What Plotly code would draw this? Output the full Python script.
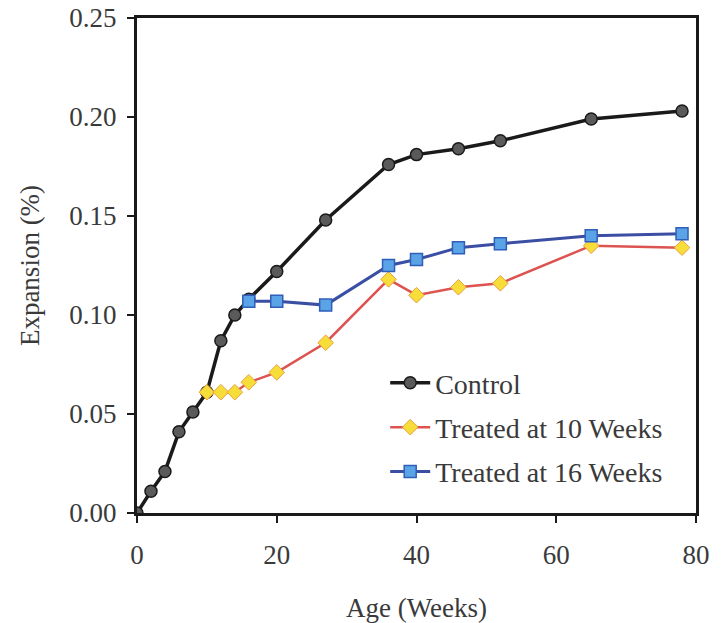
import plotly.graph_objects as go

weeks_control = [0, 2, 4, 6, 8, 10, 12, 14, 16, 20, 27, 36, 40, 46, 52, 65, 78]
exp_control = [0.000, 0.011, 0.021, 0.041, 0.051, 0.061, 0.087, 0.100, 0.108, 0.122, 0.148, 0.176, 0.181, 0.184, 0.188, 0.199, 0.203]

weeks_t10 = [10, 12, 14, 16, 20, 27, 36, 40, 46, 52, 65, 78]
exp_t10 = [0.061, 0.061, 0.061, 0.066, 0.071, 0.086, 0.118, 0.110, 0.114, 0.116, 0.135, 0.134]

weeks_t16 = [16, 20, 27, 36, 40, 46, 52, 65, 78]
exp_t16 = [0.107, 0.107, 0.105, 0.125, 0.128, 0.134, 0.136, 0.140, 0.141]

x_ticks = [0, 20, 40, 60, 80]
y_ticks = [0.00, 0.05, 0.10, 0.15, 0.20, 0.25]
y_tick_labels = ["0.00", "0.05", "0.10", "0.15", "0.20", "0.25"]

font_family = "Liberation Serif"
text_color = "#3a3a3a"

fig = go.Figure()
fig.add_trace(go.Scatter(
    x=weeks_control, y=exp_control, mode="lines+markers", name="Control",
    legendgroup="c",
    line=dict(color="#1a1a1a", width=3.5),
    marker=dict(symbol="circle", size=12, color="#5a5a5a", line=dict(color="#1a1a1a", width=1.5)),
))
fig.add_trace(go.Scatter(
    x=weeks_t10, y=exp_t10, mode="lines+markers", name="Treated at 10 Weeks",
    legendgroup="t10",
    line=dict(color="#dc5350", width=2.5),
    marker=dict(symbol="diamond", size=12, color="#f7dd3a", line=dict(color="#e8a040", width=1)),
))
fig.add_trace(go.Scatter(
    x=weeks_t16, y=exp_t16, mode="lines+markers", name="Treated at 16 Weeks",
    legendgroup="t16",
    line=dict(color="#3a4fa3", width=3),
    marker=dict(symbol="square", size=12, color="#5aa3e6", line=dict(color="#2f5fb8", width=1.5)),
))

fig.update_layout(
    width=727, height=623,
    margin=dict(l=137, r=31, t=18, b=110, autoexpand=False),
    paper_bgcolor="white", plot_bgcolor="white",
    font=dict(family=font_family, size=26, color=text_color),
    showlegend=True,
    legend=dict(
        x=0.444, y=0.313, xanchor="left", yanchor="top",
        bgcolor="rgba(255,255,255,0)", borderwidth=0,
        font=dict(family=font_family, size=28, color=text_color),
        traceorder="grouped", tracegroupgap=5, itemwidth=40,
    ),
    xaxis=dict(
        range=[0, 80], tickvals=x_ticks, ticks="outside", ticklen=7, tickwidth=2,
        tickcolor="#1a1a1a", showline=True, linecolor="#1a1a1a", linewidth=3,
        mirror=True, showgrid=False, zeroline=False, automargin=False,
        ticklabelstandoff=9, ticklabeloverflow="allow",
        tickfont=dict(family=font_family, size=27, color=text_color),
        title=dict(text="Age (Weeks)", font=dict(family=font_family, size=27, color=text_color), standoff=29),
    ),
    yaxis=dict(
        range=[0, 0.25], tickvals=y_ticks, ticktext=y_tick_labels, ticks="outside", ticklen=7, tickwidth=2,
        tickcolor="#1a1a1a", showline=True, linecolor="#1a1a1a", linewidth=3,
        mirror=True, showgrid=False, zeroline=False, automargin=False,
        ticklabelstandoff=5, ticklabeloverflow="allow",
        tickfont=dict(family=font_family, size=27, color=text_color),
        title=dict(text="Expansion (%)", font=dict(family=font_family, size=27, color=text_color), standoff=22),
    ),
)

fig.write_html(
    "out.html",
    config={"displayModeBar": False},
    post_script="document.body.style.margin='0';document.body.style.padding='0';",
)
